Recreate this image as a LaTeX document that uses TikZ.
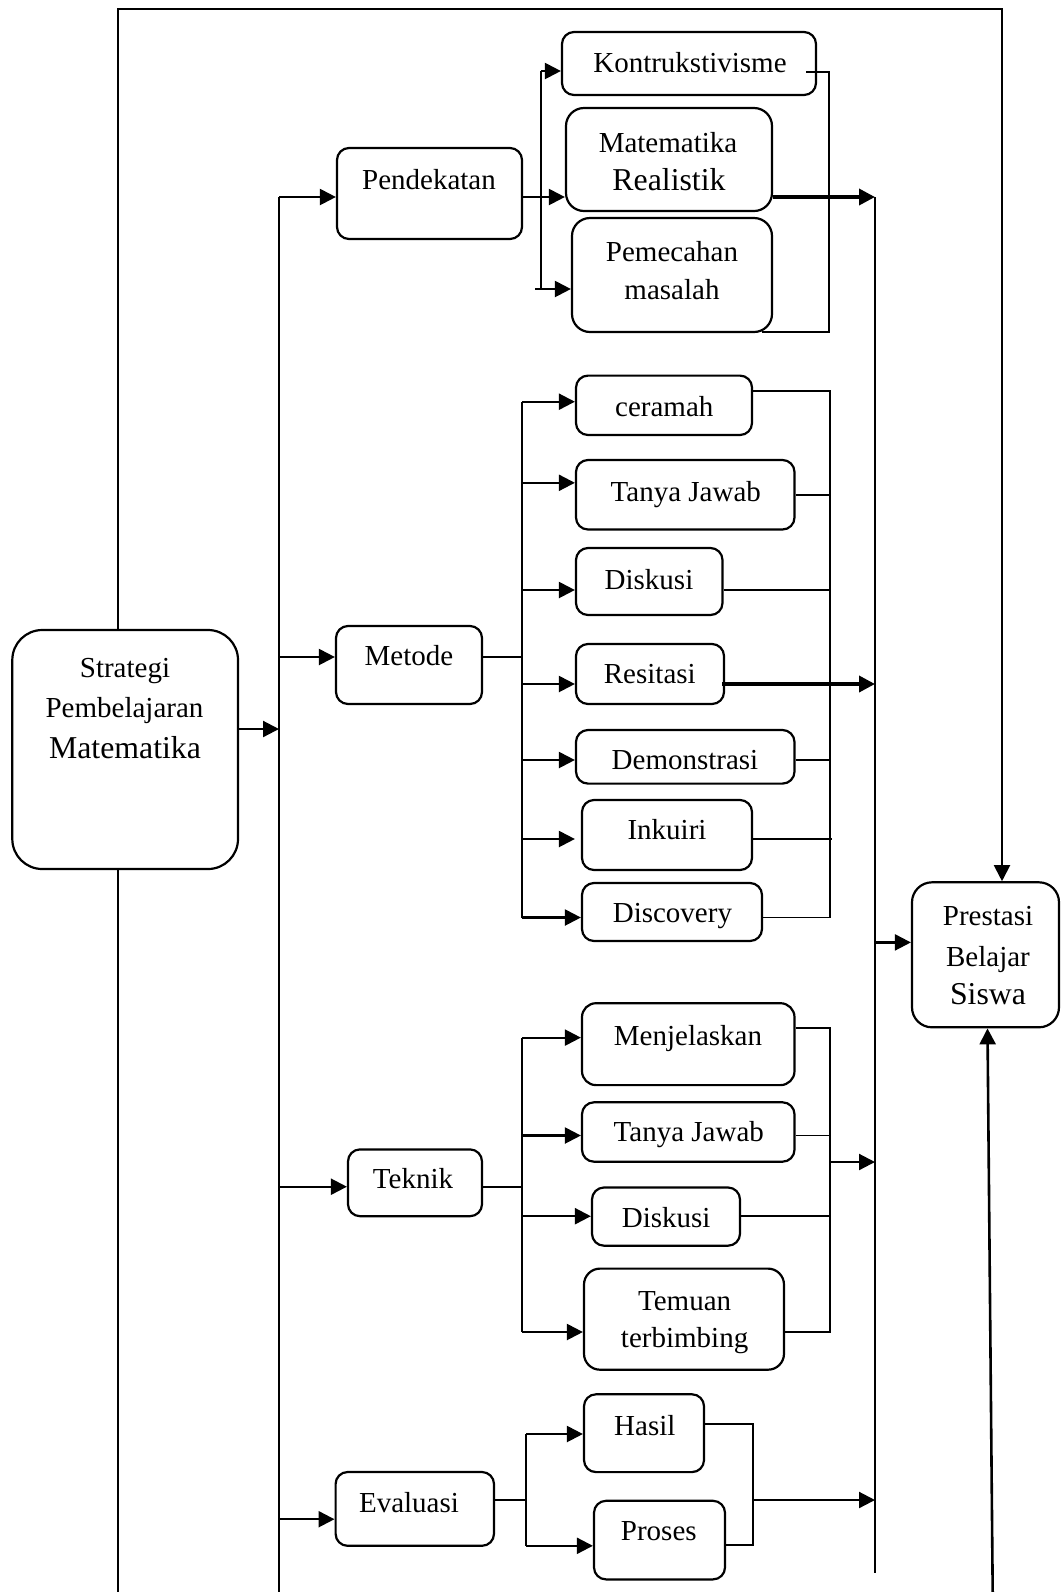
\documentclass[tikz,border=0pt]{standalone}
\usepackage{fontspec}
\setmainfont{Liberation Serif}
\usetikzlibrary{arrows.meta}
\begin{document}
\begin{tikzpicture}[x=0.5pt,y=-0.5pt,
  box/.style={draw, line width=1.1pt, rounded corners=6pt, inner sep=0pt},
  txt/.style={inner sep=0pt, text height=9.6pt, text depth=0pt, font=\fontsize{14.5}{17}\selectfont},
  bigtxt/.style={inner sep=0pt, text height=10.5pt, text depth=0pt, font=\fontsize{15.9}{19}\selectfont},
  ln/.style={line width=0.85pt},
  arr/.style={line width=1.1pt, -{Triangle[length=8pt,width=8pt]}},
  thk/.style={line width=1.8pt, -{Triangle[length=8pt,width=8pt]}}]

\useasboundingbox (0,0) rectangle (1061,1592);

% ---------- boxes ----------
\node[box, rounded corners=15pt, minimum width=112.85pt, minimum height=119.5pt] (str) at (125.15,749.5) {};
\node[box, rounded corners=10pt, minimum width=73.5pt, minimum height=72.5pt] (pre) at (985.5,954.8) {};

\node[box, minimum width=92.5pt, minimum height=45.5pt] (pend) at (429.5,193.5) {};
\node[box, minimum width=73pt, minimum height=39pt] (met) at (409,665) {};
\node[box, minimum width=67pt, minimum height=33.4pt] (tek) at (415,1182.8) {};
\node[box, minimum width=79.2pt, minimum height=36.9pt] (eva) at (414.8,1508.9) {};

\node[box, minimum width=127pt, minimum height=31.5pt] (kon) at (689,63.5) {};
\node[box, rounded corners=9pt, minimum width=103pt, minimum height=51.5pt] (mat) at (669,159.5) {};
\node[box, rounded corners=9pt, minimum width=100pt, minimum height=57pt] (pem) at (672,275) {};

\node[box, minimum width=88pt, minimum height=29.7pt] (cer) at (664,405.3) {};
\node[box, minimum width=109.25pt, minimum height=34.75pt] (tja) at (685.25,494.75) {};
\node[box, minimum width=73.25pt, minimum height=33.5pt] (dsa) at (649.25,581.5) {};
\node[box, minimum width=74pt, minimum height=30pt] (res) at (650,674) {};
\node[box, minimum width=109.25pt, minimum height=26.8pt] (dem) at (685.25,756.8) {};
\node[box, minimum width=85pt, minimum height=35pt] (ink) at (667,835) {};
\node[box, minimum width=90pt, minimum height=29pt] (dsc) at (672,912) {};

\node[box, rounded corners=7pt, minimum width=106.25pt, minimum height=40.95pt] (men) at (688.25,1044.15) {};
\node[box, minimum width=106.25pt, minimum height=29.7pt] (tjb) at (688.25,1132) {};
\node[box, minimum width=74pt, minimum height=29.1pt] (dsb) at (666,1216.6) {};
\node[box, rounded corners=8pt, minimum width=100pt, minimum height=50.55pt] (tem) at (684,1319.15) {};

\node[box, minimum width=60pt, minimum height=38.9pt] (has) at (644,1433.2) {};
\node[box, minimum width=65.5pt, minimum height=39.3pt] (pro) at (659.5,1540.1) {};

% ---------- labels ----------
\node[txt] (strA) at (125,668) {Strategi};
\node[txt] (strB) at (124.5,708) {Pembelajaran};
\node[bigtxt] (strC) at (125,748) {Matematika};

\node[txt] (preA) at (988,916) {Prestasi};
\node[txt] (preB) at (988,956.6) {Belajar};
\node[bigtxt] (preC) at (988,994.4) {Siswa};

\node[txt] (pendT) at (429,180) {Pendekatan};
\node[txt] (metT) at (409,656) {Metode};
\node[txt] (tekT) at (413,1179.3) {Teknik};
\node[txt] (evaT) at (409,1502.8) {Evaluasi};

\node[txt] (konT) at (690,63) {Kontrukstivisme};
\node[txt] (matA) at (668,143) {Matematika};
\node[bigtxt] (matB) at (669,180) {Realistik};
\node[txt] (pemA) at (672,252) {Pemecahan};
\node[txt] (pemB) at (672,290) {masalah};

\node[txt] (cerT) at (664.3,406.6) {ceramah};
\node[txt] (tjaT) at (685.8,491.6) {Tanya Jawab};
\node[txt] (dsaT) at (649,579.6) {Diskusi};
\node[txt] (resT) at (649.8,673.4) {Resitasi};
\node[txt] (demT) at (685,759.5) {Demonstrasi};
\node[txt] (inkT) at (667,830) {Inkuiri};
\node[txt] (dscT) at (672.4,912.6) {Discovery};

\node[txt] (menT) at (688,1036) {Menjelaskan};
\node[txt] (tjbT) at (688.8,1132) {Tanya Jawab};
\node[txt] (dsbT) at (666.2,1218) {Diskusi};
\node[txt] (temA) at (684.6,1301.3) {Temuan};
\node[txt] (temB) at (684.6,1338.2) {terbimbing};

\node[txt] (hasT) at (644.8,1425.8) {Hasil};
\node[txt] (proT) at (658.8,1530.7) {Proses};

% ---------- outer frame ----------
\coordinate (tl) at (118,9);
\coordinate (tr) at (1002,9);
\coordinate (bl) at (118,1592);
\coordinate (br) at (992.7,1592);
\draw[arr, line width=1pt] (tl |- str.north) -- (tl) -- (tr) -- (tr |- pre.north);
\draw[line width=1pt] (tl |- str.south) -- (bl);
\draw[line width=1.3pt, -{Triangle[length=8pt,width=8pt]}] (br) -- ([xshift=1pt]pre.south);

% ---------- main bus (left) ----------
\coordinate (m0) at (279,197);
\coordinate (mE) at (279,1592);
\draw[line width=1pt] (m0) -- (mE);
\coordinate (m2) at (279,729);
\draw[arr] (m2 -| str.east) -- (m2);

% ---------- collector bus (right) ----------
\coordinate (c0) at (875,197);
\coordinate (cE) at (875,1573);
\draw[line width=1pt] (c0) -- (cE);
\coordinate (c1) at (875,942.4);
\draw[arr] (c1) -- (c1 -| pre.west);

% ---------- Pendekatan ----------
\draw[arr] (m0) -- (m0 -| pend.west);
\coordinate (pb) at (541,197);
\coordinate (pbT) at (541,71);
\coordinate (pbB) at (541,289);
\draw[arr] (pend.east |- pb) -- (pb -| mat.west);
\draw[ln] (pbT) -- (pbB);
\draw[arr] (pbT) -- (pbT -| kon.west);
\draw[arr] ([xshift=-3pt]pbB) -- (pbB -| pem.west);
\coordinate (kc1) at (806,72);
\coordinate (kc2) at (829,72);
\coordinate (kc3) at (829,332);
\coordinate (kc4) at (762,332);
\draw[ln] (kc1) -- (kc2) -- (kc3) -- (kc4);
\draw[thk] (mat.east |- pb) -- (c0);

% ---------- Metode ----------
\coordinate (m1) at (279,657);
\draw[arr] (m1) -- (m1 -| met.west);
\coordinate (b1) at (522,657);
\draw[ln] (met.east |- b1) -- (b1);
\coordinate (b1T) at (522,401.7);
\coordinate (b1a) at (522,482.8);
\coordinate (b1b) at (522,590);
\coordinate (b1c) at (522,684);
\coordinate (b1d) at (522,760);
\coordinate (b1e) at (522,839);
\coordinate (b1B) at (522,917.5);
\draw[ln] (b1T) -- (b1B);
\draw[arr] (b1T) -- (b1T -| cer.west);
\draw[arr] (b1a) -- (b1a -| tja.west);
\draw[arr] (b1b) -- (b1b -| dsa.west);
\draw[arr] (b1c) -- (b1c -| res.west);
\draw[arr] (b1d) -- (b1d -| dem.west);
\draw[arr] (b1e) -- ([xshift=-3pt]b1e -| ink.west);
\draw[arr] (b1B) -- (b1B -| dsc.west);

\coordinate (k1T) at (829.7,391);
\coordinate (k1B) at (829.7,917.5);
\draw[ln] (cer.east |- k1T) -- (k1T) -- (k1B) -- (dsc.east |- k1B);
\draw[ln] (tja.east) -- (tja.east -| k1T);
\draw[ln] (dsa.east |- b1b) -- (b1b -| k1T);
\draw[ln] (dem.east |- b1d) -- (b1d -| k1T);
\draw[ln] (ink.east |- b1e) -- ([xshift=1pt]b1e -| k1T);
\draw[thk] ([xshift=-1.5pt]res.east |- b1c) -- (b1c -| c0);

% ---------- Teknik ----------
\coordinate (m3) at (279,1186.7);
\draw[arr] (m3) -- (m3 -| tek.west);
\coordinate (b3) at (522,1186.7);
\draw[ln] (tek.east |- b3) -- (b3);
\coordinate (b3T) at (522,1037.6);
\coordinate (b3a) at (522,1135.5);
\coordinate (b3b) at (522,1216.2);
\coordinate (b3B) at (522,1332);
\draw[ln] (b3T) -- (b3B);
\draw[arr] (b3T) -- (b3T -| men.west);
\draw[arr] (b3a) -- (b3a -| tjb.west);
\draw[arr] (b3b) -- (b3b -| dsb.west);
\draw[arr] (b3B) -- (b3B -| tem.west);

\coordinate (k3T) at (829.7,1027.8);
\coordinate (k3B) at (829.7,1332);
\draw[ln] (men.east |- k3T) -- (k3T) -- (k3B) -- (tem.east |- k3B);
\draw[ln] (tjb.east |- b3a) -- (b3a -| k3T);
\draw[ln] (dsb.east |- b3b) -- (b3b -| k3T);
\coordinate (k3o) at (829.7,1162);
\draw[arr] (k3o) -- (k3o -| c0);

% ---------- Evaluasi ----------
\coordinate (m4) at (279,1519.2);
\draw[arr] (m4) -- (m4 -| eva.west);
\coordinate (b4) at (526,1500);
\draw[ln] (eva.east |- b4) -- (b4);
\coordinate (b4T) at (526,1434);
\coordinate (b4B) at (526,1545.8);
\draw[ln] (b4T) -- (b4B);
\draw[arr] (b4T) -- (b4T -| has.west);
\draw[arr] (b4B) -- (b4B -| pro.west);
\coordinate (k4T) at (752.7,1424.2);
\coordinate (k4B) at (752.7,1545);
\draw[ln] (has.east |- k4T) -- (k4T) -- (k4B) -- (pro.east |- k4B);
\coordinate (k4o) at (752.7,1500);
\draw[arr] (k4o) -- (k4o -| c0);

\end{tikzpicture}
\end{document}
